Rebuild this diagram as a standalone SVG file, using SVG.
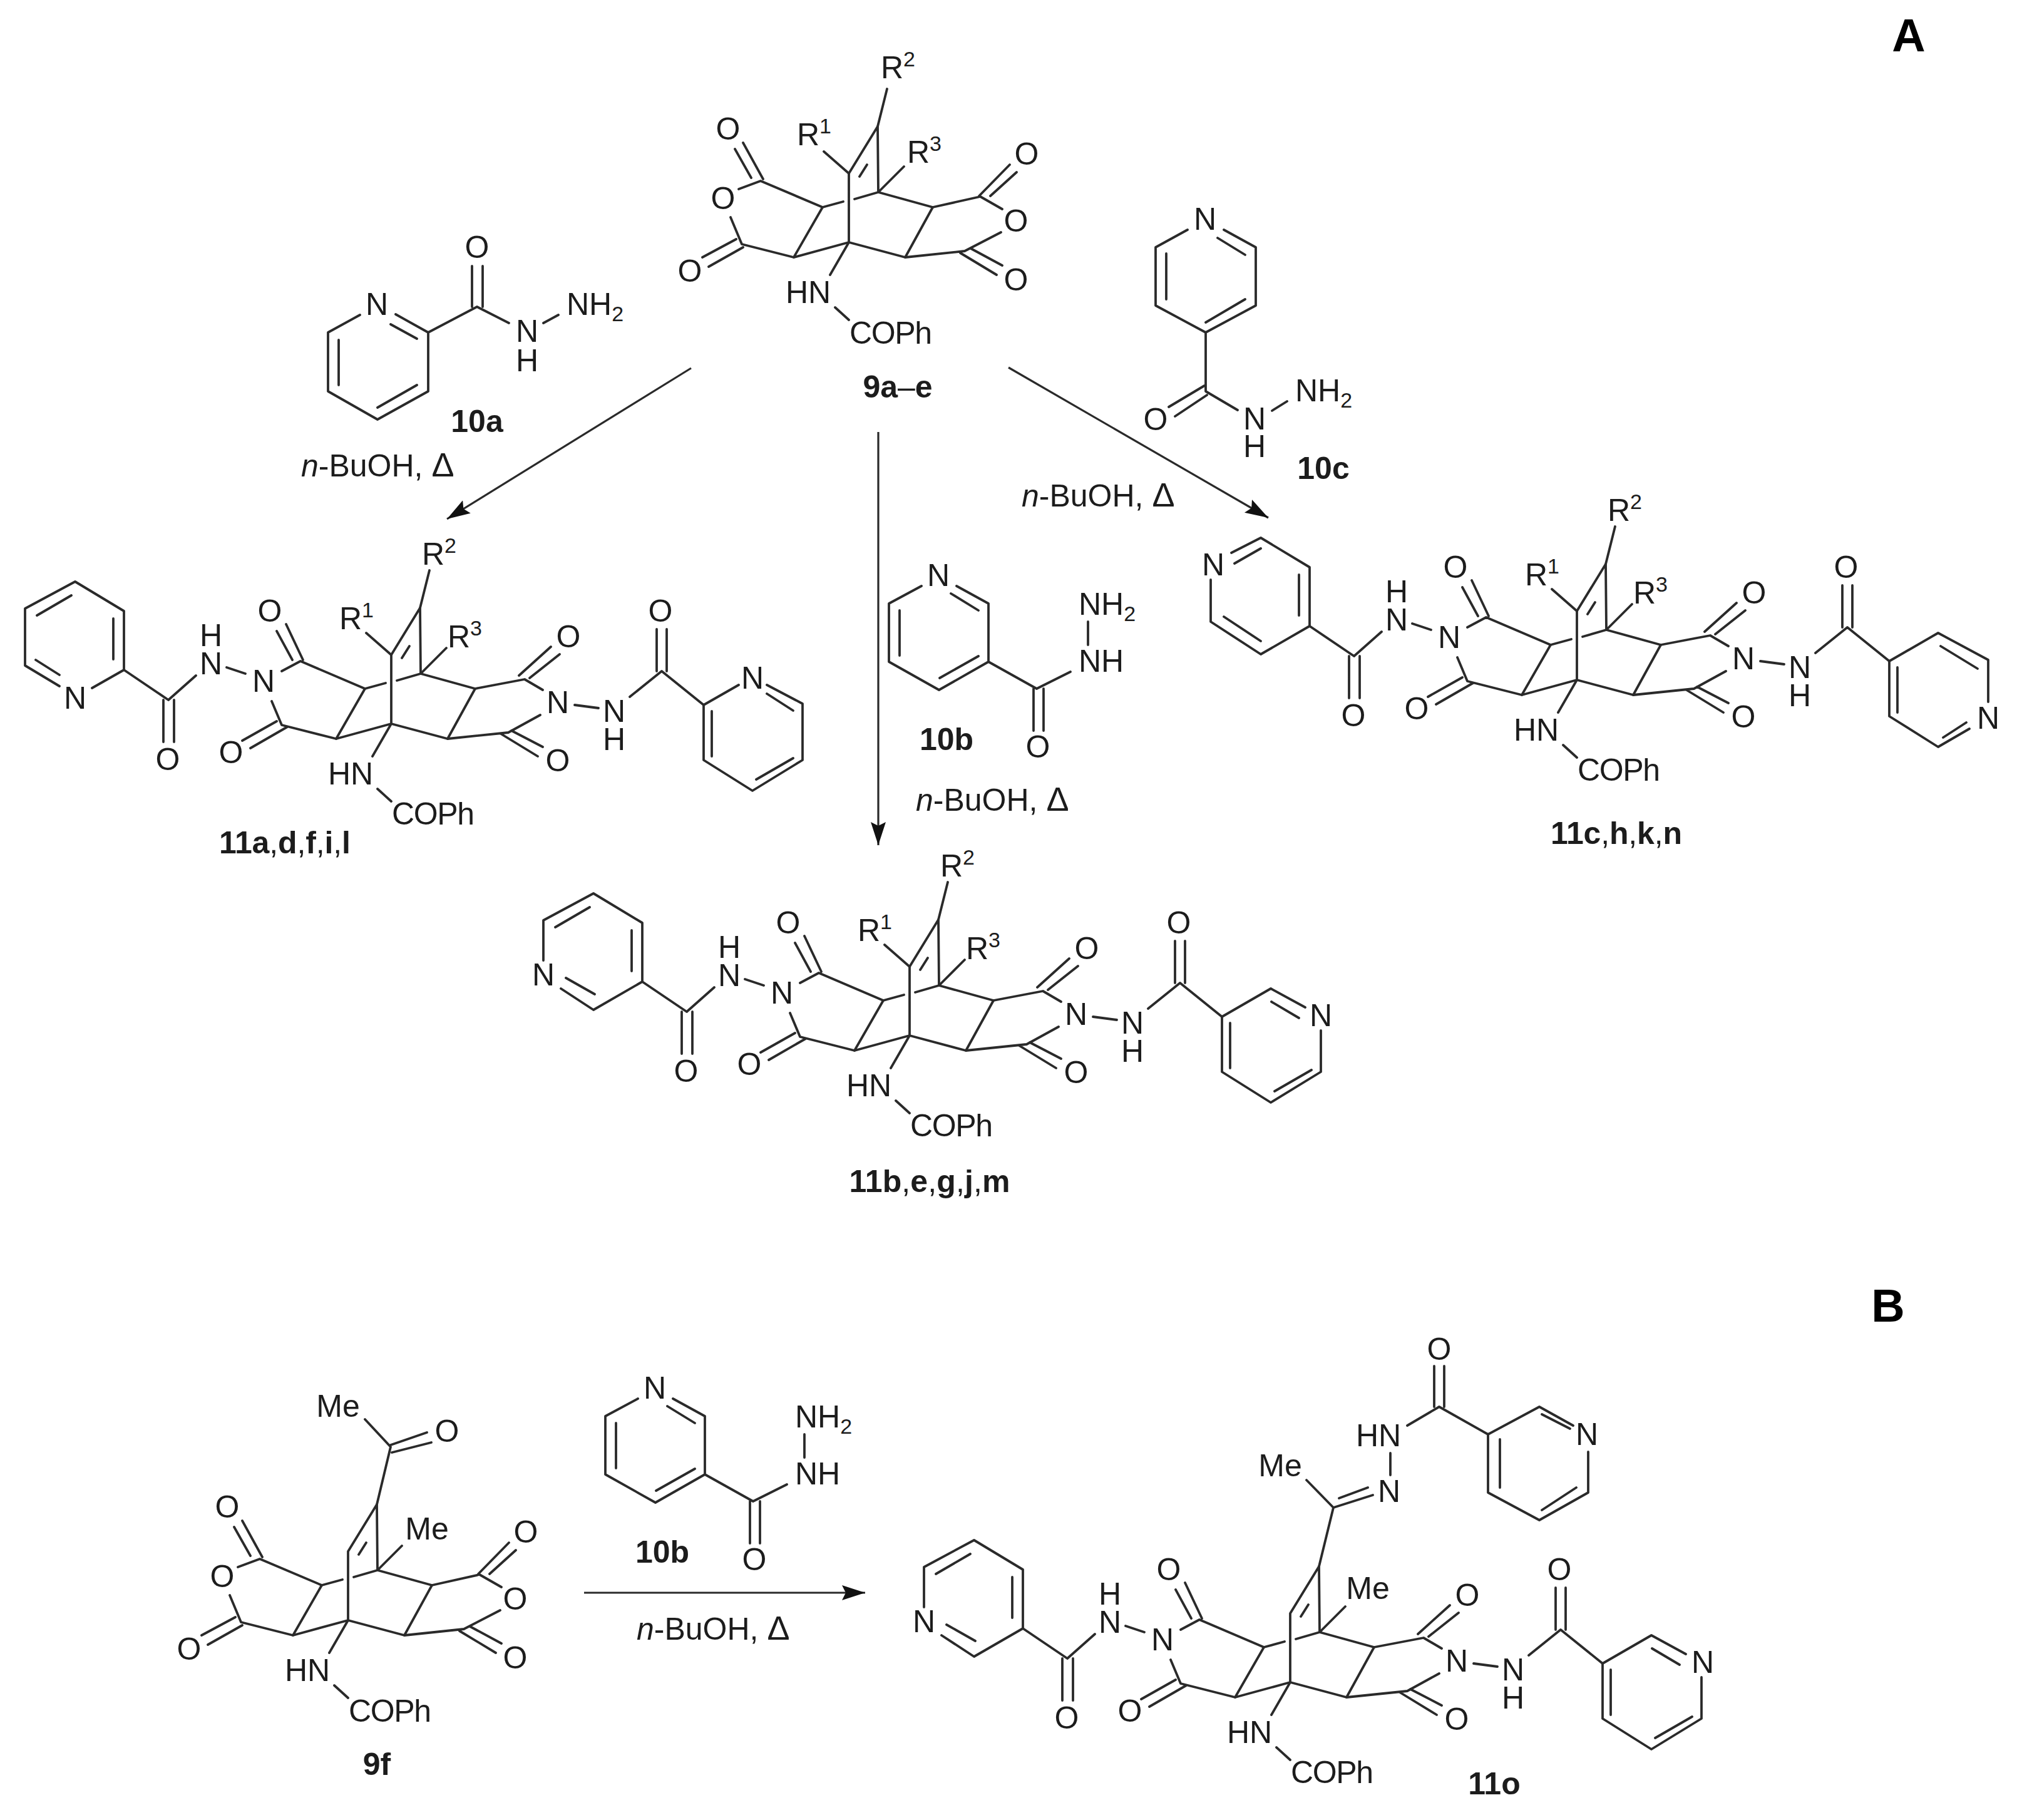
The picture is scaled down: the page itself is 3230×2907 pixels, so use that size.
<svg xmlns="http://www.w3.org/2000/svg" width="3230" height="2907" viewBox="0 0 3230 2907">
<style>
.b{stroke:#2a2a2a;stroke-width:3.8;fill:none;stroke-linecap:round;stroke-linejoin:round}
.a{stroke:#2a2a2a;stroke-width:3.2;fill:none}
text{font-family:"Liberation Sans",Arial,sans-serif;font-size:50px;fill:#1c1c1c}
.t{text-anchor:middle}
.s{text-anchor:start}
.l{text-anchor:middle;font-weight:700}
.n{font-weight:400}
.h{font-size:74px;font-weight:700;text-anchor:middle;fill:#000}
.u{font-size:34px}
.d{font-size:54px}
</style>
<defs>
<marker id="head" markerUnits="userSpaceOnUse" markerWidth="40" markerHeight="26" refX="37" refY="12" orient="auto"><path d="M0,0L37,12L0,24L6,12Z" fill="#111"/></marker>
<path id="cage" class="b" d="M0,0V-110L46,-185L47,-80M17,-105L29,-124M-42,-56L-9,-65M9,-69L47,-80L134,-56L90,24L0,0L-88,24L-42,-56M0,0L-30,52M-22,104L0,124"/>
<path id="rbonds" class="b" d="M0,-110L-40,-145M47,-80L88,-121M46,-185L61,-245"/>
<path id="anh" class="b" d="M-42,-56L-141,-98L-176,-85M-189,-40L-171,3L-88,24M134,-56L210,-73L245,-53M243,-16L185,14L90,24M-156,-103L-182,-149M-137,-101L-169,-159M-180,-5L-234,24M-169,8L-224,39M208,-74L257,-124M226,-74L268,-112M178,17L236,52M195,10L245,37"/>
<path id="imide" class="b" d="M-42,-56L-145,-100L-175,-84M-191,-36L-175,2L-88,24M134,-56L213,-71L242,-54M238,-14L187,14L90,24M-158,-102L-183,-148M-141,-102L-168,-159M-183,-4L-238,27M-166,5L-225,39M204,-77L255,-123M221,-73L269,-111M175,16L234,52M192,11L242,37M-263,-90L-233,-80M-312,-77L-356,-38L-427,-86M-364,-38V29M-347,-38V29M293,-30L331,-25M381,-43L432,-84L499,-30M424,-84V-151M440,-84V-151"/>
<path id="nic" class="b" d="M1472,936L1420,964V1057L1500,1102L1579,1057V964L1528,936M1437,975V1047M1501,1083L1563,1048M1519,948L1563,975M1579,1057L1656,1100L1710,1073M1651,1100V1167M1667,1100V1167M1738,993V1030"/>
</defs>

<g id="connectors">
<path class="a" marker-end="url(#head)" d="M1104,588L714,829"/>
<path class="a" marker-end="url(#head)" d="M1611,587L2026,827"/>
<path class="a" marker-end="url(#head)" d="M1403,690V1350"/>
<path class="a" marker-end="url(#head)" d="M933,2544H1382"/>
</g>

<g id="compound-9a-e" transform="translate(1356,387)">
<use href="#cage"/><use href="#rbonds"/><use href="#anh"/>
<text class="t" x="-193" y="-164">O</text><text class="t" x="-201" y="-53">O</text><text class="t" x="-254" y="63">O</text><text class="t" x="284" y="-124">O</text><text class="t" x="267" y="-17">O</text><text class="t" x="267" y="77">O</text>
<text class="t" x="-65" y="97">HN</text><text class="t" x="67" y="162" textLength="132">COPh</text>
<text class="s" x="-83" y="-155">R<tspan class="u" dy="-19">1</tspan></text>
<text class="s" x="51" y="-262">R<tspan class="u" dy="-19">2</tspan></text>
<text class="s" x="93" y="-127">R<tspan class="u" dy="-19">3</tspan></text>
<text class="l" x="78" y="248">9a<tspan class="n">–</tspan>e</text>
</g>

<g id="compound-10a">
<path class="b" d="M575,503L524,531V625L603,670L684,625V531L632,502M624,518L666,541M541,543V615M603,651L666,615M684,531L762,490L813,516M754,490V425M771,490V425M868,516L892,503"/>
<text class="t" x="602" y="503">N</text><text class="t" x="762" y="412">O</text>
<text class="t"><tspan x="842" y="546">N</tspan><tspan x="842" y="593">H</tspan></text>
<text class="s" x="905" y="503">NH<tspan class="u" dy="10">2</tspan></text>
<text class="l" x="762" y="690">10a</text>
<text class="s" x="481" y="761"><tspan font-style="italic">n</tspan>-BuOH, <tspan class="d">Δ</tspan></text>
</g>

<g id="compound-10c">
<path class="b" d="M1897,367L1846,395V488L1926,531L2006,488V395L1955,367M1863,405V478M1926,515L1989,478M1945,380L1989,407M1926,531V625L1977,655M1924,616L1867,650M1928,631L1877,665M2032,656L2056,641"/>
<text class="t" x="1925" y="367">N</text><text class="t" x="1846" y="687">O</text>
<text class="t"><tspan x="2004" y="686">N</tspan><tspan x="2004" y="730">H</tspan></text>
<text class="s" x="2069" y="641">NH<tspan class="u" dy="10">2</tspan></text>
<text class="l" x="2114" y="765">10c</text>
<text class="s" x="1632" y="809"><tspan font-style="italic">n</tspan>-BuOH, <tspan class="d">Δ</tspan></text>
</g>

<g id="compound-10b">
<use href="#nic"/>
<text class="t" x="1499" y="936">N</text><text class="t" x="1658" y="1210">O</text>
<text class="s" x="1723" y="1073">NH</text>
<text class="s" x="1723" y="982">NH<tspan class="u" dy="10">2</tspan></text>
<text class="l" x="1512" y="1198">10b</text>
<text class="s" x="1463" y="1295"><tspan font-style="italic">n</tspan>-BuOH, <tspan class="d">Δ</tspan></text>
</g>

<g id="compound-11a" transform="translate(625,1156)">
<use href="#cage"/><use href="#rbonds"/><use href="#imide"/>
<path class="b" d="M-478,-57L-427,-86V-180L-505,-227L-585,-184V-93L-530,-60M-444,-103V-168M-511,-205L-566,-173M-568,-102L-530,-78M555,-62L499,-30V58L577,107L657,58V-32L600,-62M512,-20V52M583,89L642,55M600,-48L642,-21"/>
<text class="t" x="-505" y="-24">N</text><text class="t" x="577" y="-56">N</text>
<text class="t" x="-194" y="-163">O</text><text class="t" x="-204" y="-51">N</text><text class="t" x="-256" y="63">O</text><text class="t" x="283" y="-122">O</text><text class="t" x="266" y="-17">N</text><text class="t" x="266" y="76">O</text>
<text class="t" x="-65" y="97">HN</text><text class="t" x="67" y="161" textLength="132">COPh</text>
<text class="t"><tspan x="-288" y="-124">H</tspan><tspan x="-288" y="-79">N</tspan></text><text class="t" x="-357" y="74">O</text><text class="t"><tspan x="356" y="-3">N</tspan><tspan x="356" y="42">H</tspan></text><text class="t" x="430" y="-163">O</text>
<text class="s" x="-83" y="-151">R<tspan class="u" dy="-19">1</tspan></text>
<text class="s" x="49" y="-254">R<tspan class="u" dy="-19">2</tspan></text>
<text class="s" x="90" y="-122">R<tspan class="u" dy="-19">3</tspan></text>
<text class="l" x="-170" y="207" textLength="210">11a<tspan class="n">,</tspan>d<tspan class="n">,</tspan>f<tspan class="n">,</tspan>i<tspan class="n">,</tspan>l</text>
</g>

<g id="compound-11b" transform="translate(1453,1654)">
<use href="#cage"/><use href="#rbonds"/><use href="#imide"/>
<path class="b" d="M-585,-120V-184L-505,-227L-427,-180V-86L-505,-41L-557,-75M-444,-103V-168M-511,-205L-566,-173M-549,-92L-503,-66M657,-8V58L577,107L499,58V-30L577,-75L632,-45M512,-20V52M583,89L642,55M578,-54L622,-28"/>
<text class="t" x="-585" y="-80">N</text><text class="t" x="657" y="-15">N</text>
<text class="t" x="-194" y="-163">O</text><text class="t" x="-204" y="-51">N</text><text class="t" x="-256" y="63">O</text><text class="t" x="283" y="-122">O</text><text class="t" x="266" y="-17">N</text><text class="t" x="266" y="76">O</text>
<text class="t" x="-65" y="97">HN</text><text class="t" x="67" y="161" textLength="132">COPh</text>
<text class="t"><tspan x="-288" y="-124">H</tspan><tspan x="-288" y="-79">N</tspan></text><text class="t" x="-357" y="74">O</text><text class="t"><tspan x="356" y="-3">N</tspan><tspan x="356" y="42">H</tspan></text><text class="t" x="430" y="-163">O</text>
<text class="s" x="-83" y="-151">R<tspan class="u" dy="-19">1</tspan></text>
<text class="s" x="49" y="-254">R<tspan class="u" dy="-19">2</tspan></text>
<text class="s" x="90" y="-122">R<tspan class="u" dy="-19">3</tspan></text>
<text class="l" x="32" y="250" textLength="257">11b<tspan class="n">,</tspan>e<tspan class="n">,</tspan>g<tspan class="n">,</tspan>j<tspan class="n">,</tspan>m</text>
</g>

<g id="compound-11c" transform="translate(2519,1086)">
<use href="#cage"/><use href="#rbonds"/><use href="#imide"/>
<path class="b" d="M-585,-160V-93L-505,-41L-427,-86V-180L-505,-227L-552,-203M-444,-103V-168M-564,-101L-505,-62M-547,-186L-505,-210M657,35V-32L577,-75L499,-30V58L577,107L627,78M512,-20V52M581,-54L640,-18M585,92L622,68"/>
<text class="t" x="-581" y="-167">N</text><text class="t" x="657" y="78">N</text>
<text class="t" x="-194" y="-163">O</text><text class="t" x="-204" y="-51">N</text><text class="t" x="-256" y="63">O</text><text class="t" x="283" y="-122">O</text><text class="t" x="266" y="-17">N</text><text class="t" x="266" y="76">O</text>
<text class="t" x="-65" y="97">HN</text><text class="t" x="67" y="161" textLength="132">COPh</text>
<text class="t"><tspan x="-288" y="-124">H</tspan><tspan x="-288" y="-79">N</tspan></text><text class="t" x="-357" y="74">O</text><text class="t"><tspan x="356" y="-3">N</tspan><tspan x="356" y="42">H</tspan></text><text class="t" x="430" y="-163">O</text>
<text class="s" x="-83" y="-151">R<tspan class="u" dy="-19">1</tspan></text>
<text class="s" x="49" y="-254">R<tspan class="u" dy="-19">2</tspan></text>
<text class="s" x="90" y="-122">R<tspan class="u" dy="-19">3</tspan></text>
<text class="l" x="63" y="262" textLength="210">11c<tspan class="n">,</tspan>h<tspan class="n">,</tspan>k<tspan class="n">,</tspan>n</text>
</g>

<g id="compound-9f" transform="translate(556,2588)">
<use href="#cage"/><use href="#anh"/>
<path class="b" d="M47,-80L86,-119M46,-185L68,-277L27,-321M68,-280L126,-300M70,-268L133,-284"/>
<text class="t" x="-193" y="-164">O</text><text class="t" x="-201" y="-53">O</text><text class="t" x="-254" y="63">O</text><text class="t" x="284" y="-124">O</text><text class="t" x="267" y="-17">O</text><text class="t" x="267" y="77">O</text>
<text class="t" x="-65" y="97">HN</text><text class="t" x="67" y="162" textLength="132">COPh</text>
<text class="t" x="-16" y="-325">Me</text><text class="t" x="158" y="-285">O</text><text class="t" x="126" y="-129">Me</text>
<text class="l" x="46" y="247">9f</text>
</g>

<g id="compound-10b-B">
<use href="#nic" transform="translate(-453,1298)"/>
<text class="t" x="1046" y="2234">N</text><text class="t" x="1205" y="2508">O</text>
<text class="s" x="1270" y="2371">NH</text>
<text class="s" x="1270" y="2280">NH<tspan class="u" dy="10">2</tspan></text>
<text class="l" x="1058" y="2496">10b</text>
<text class="s" x="1017" y="2619"><tspan font-style="italic">n</tspan>-BuOH, <tspan class="d">Δ</tspan></text>
</g>

<g id="compound-11o" transform="translate(2061,2687)">
<use href="#cage"/><use href="#imide"/>
<path class="b" d="M47,-80L88,-121M46,-185L69,-279L26,-323M69,-279L132,-299M78,-294L124,-311M160,-366V-331M187,-410L238,-440L316,-396M230,-440V-505M246,-440V-505M476,-368V-303L398,-259L316,-303V-396L398,-440L452,-410M335,-388V-311M402,-428L447,-405M402,-275L457,-311"/>
<path class="b" d="M-585,-120V-184L-505,-227L-427,-180V-86L-505,-41L-557,-75M-444,-103V-168M-511,-205L-566,-173M-549,-92L-503,-66M657,-8V58L577,107L499,58V-30L577,-75L632,-45M512,-20V52M583,89L642,55M578,-54L622,-28"/>
<text class="t" x="-585" y="-80">N</text><text class="t" x="659" y="-15">N</text>
<text class="t" x="-194" y="-163">O</text><text class="t" x="-204" y="-51">N</text><text class="t" x="-256" y="63">O</text><text class="t" x="283" y="-122">O</text><text class="t" x="266" y="-17">N</text><text class="t" x="266" y="76">O</text>
<text class="t" x="-65" y="97">HN</text><text class="t" x="67" y="161" textLength="132">COPh</text>
<text class="t"><tspan x="-288" y="-124">H</tspan><tspan x="-288" y="-79">N</tspan></text><text class="t" x="-357" y="74">O</text><text class="t"><tspan x="356" y="-3">N</tspan><tspan x="356" y="42">H</tspan></text><text class="t" x="430" y="-163">O</text>
<text class="t" x="124" y="-133">Me</text><text class="t" x="-16" y="-329">Me</text><text class="t" x="158" y="-288">N</text><text class="t" x="141" y="-377">HN</text><text class="t" x="238" y="-515">O</text><text class="t" x="474" y="-379">N</text>
<text class="l" x="326" y="179">11o</text>
</g>

<text id="label-A" class="h" x="3049" y="82">A</text>
<text id="label-B" class="h" x="3016" y="2111">B</text>
</svg>
